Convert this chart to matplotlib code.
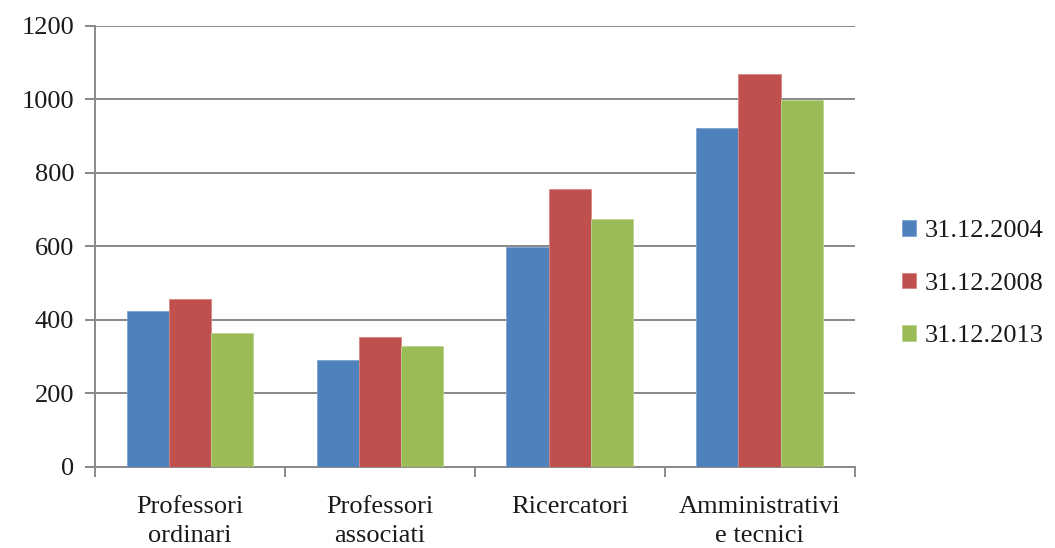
import matplotlib
matplotlib.use("Agg")
import matplotlib.pyplot as plt
import numpy as np

categories = ["Professori\nordinari", "Professori\nassociati", "Ricercatori", "Amministrativi\ne tecnici"]
series_labels = ["31.12.2004", "31.12.2008", "31.12.2013"]
values_2004 = [424, 291, 597, 922]
values_2008 = [458, 353, 755, 1068]
values_2013 = [364, 329, 673, 997]
y_ticks = [0, 200, 400, 600, 800, 1000, 1200]

colors = ["#4F81BD", "#C0504D", "#9BBB59"]
edge_colors = ["#7FA3D3", "#D98583", "#BBD38C"]
grid_color = "#898989"
text_color = "#1a1a1a"

plt.rcParams["font.family"] = ["Liberation Serif", "DejaVu Serif"]

fig = plt.figure(figsize=(10.55, 5.48), dpi=100)
ax = fig.add_axes([0.090, 0.148, 0.720, 0.805])

x = np.arange(len(categories))
width = 1.0 / 4.5
all_series = [values_2004, values_2008, values_2013]
for i, (vals, lab) in enumerate(zip(all_series, series_labels)):
    ax.bar(x + (i - 1) * width, vals, width, color=colors[i], edgecolor=edge_colors[i],
           linewidth=0.6, label=lab, zorder=3)

ax.set_xlim(-0.5, len(categories) - 0.5)
ax.set_ylim(0, 1200)
ax.set_yticks(y_ticks)
ax.set_yticklabels([str(v) for v in y_ticks], fontsize=19, color=text_color)
ax.yaxis.grid(True, color=grid_color, linewidth=1.4, zorder=0)
ax.set_axisbelow(True)

ax.set_xticks(np.arange(-0.5, len(categories) + 0.5, 1.0))
ax.set_xticklabels([])
ax.set_xticks(x, minor=True)
ax.set_xticklabels(categories, minor=True, fontsize=19, color=text_color, linespacing=1.4)
ax.tick_params(axis="x", which="minor", length=0, pad=21)
ax.tick_params(axis="x", which="major", length=7, width=1.4, color=grid_color, direction="out")
ax.tick_params(axis="y", length=7, width=1.4, color=grid_color, direction="out", pad=8)

for side in ["top", "right"]:
    ax.spines[side].set_visible(False)
for side in ["left", "bottom"]:
    ax.spines[side].set_color(grid_color)
    ax.spines[side].set_linewidth(1.4)

leg = fig.legend(loc="center left", bbox_to_anchor=(0.855, 0.482), bbox_transform=fig.transFigure,
                 frameon=False, fontsize=19, handlelength=0.52, handleheight=0.52,
                 handletextpad=0.33, labelspacing=1.15, borderpad=0, borderaxespad=0)
for t in leg.get_texts():
    t.set_color(text_color)

fig.savefig("out.png", dpi=100)
